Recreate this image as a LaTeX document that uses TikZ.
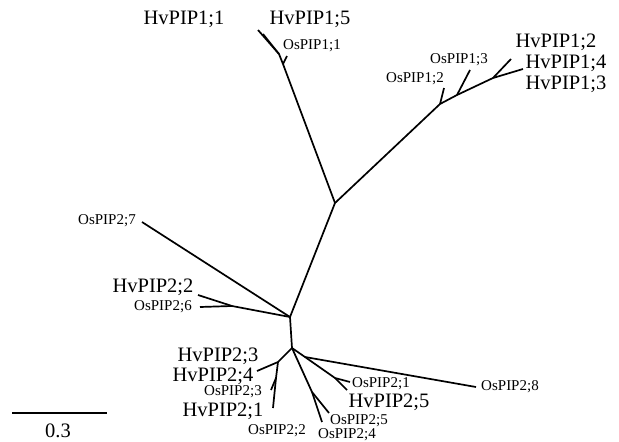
\documentclass[tikz,border=0pt]{standalone}
\usepackage{fontspec}
\setmainfont{Liberation Serif}
\begin{document}
\begin{tikzpicture}[x=1pt,y=-1pt,
  br/.style={line width=1.7pt},
  big/.style={font=\fontsize{20.5}{20.5}\selectfont, inner sep=0pt},
  small/.style={font=\fontsize{15}{15}\selectfont, inner sep=0pt}]
\useasboundingbox (0,0) rectangle (619,442);

% inner nodes of the tree
\coordinate (A) at (335,203);
\coordinate (n1) at (283,64);
\coordinate (n2) at (279,54);
\coordinate (n3) at (440,104);
\coordinate (n4) at (457,95);
\coordinate (n5) at (493,78);
\coordinate (B) at (290,317);
\coordinate (C) at (232,306);
\coordinate (D) at (292,348);
\coordinate (E) at (278,362);
\coordinate (F) at (276,378);
\coordinate (G) at (312,392);
\coordinate (H) at (305,357);
\coordinate (I) at (335,378);

% tips
\coordinate (tOs11) at (287,56);
\coordinate (tHv11) at (258,30);
\coordinate (tHv15) at (263,34);
\coordinate (tOs12) at (444,88);
\coordinate (tOs13) at (470,70);
\coordinate (tHv12) at (511,59);
\coordinate (tHv14) at (523,69);
\coordinate (tOs27) at (142,222);
\coordinate (tHv22) at (198,295);
\coordinate (tOs26) at (200,307);
\coordinate (tHv24) at (257,371);
\coordinate (tOs23) at (271,390);
\coordinate (tHv21) at (273,408);
\coordinate (tOs24) at (322,422);
\coordinate (tOs25) at (329,413);
\coordinate (tOs28) at (476,387);
\coordinate (tOs21) at (350,382);
\coordinate (tHv25) at (347,390);

% branches
\draw [br] (A) -- (n1) -- (n2) -- (tHv11);
\draw [br] (n2) -- (tHv15);
\draw [br] (n1) -- (tOs11);
\draw [br] (A) -- (n3) -- (n4) -- (n5) -- (tHv14);
\draw [br] (n3) -- (tOs12);
\draw [br] (n4) -- (tOs13);
\draw [br] (n5) -- (tHv12);
\draw [br] (A) -- (B) -- (tOs27);
\draw [br] (B) -- (C) -- (tHv22);
\draw [br] (C) -- (tOs26);
\draw [br] (B) -- (D) -- (E) -- (tHv24);
\draw [br] (E) -- (F) -- (tHv21);
\draw [br] (F) -- (tOs23);
\draw [br] (D) -- (G) -- (tOs24);
\draw [br] (G) -- (tOs25);
\draw [br] (D) -- (H) -- (tOs28);
\draw [br] (H) -- (I) -- (tOs21);
\draw [br] (I) -- (tHv25);

% labels
\node [big] (lHv11) at (184,19) {HvPIP1;1};
\node [big] (lHv15) at (310,19) {HvPIP1;5};
\node [small] (lOs11) at (312,46) {OsPIP1;1};
\node [small] (lOs13) at (459,60) {OsPIP1;3};
\node [small] (lOs12) at (415,79) {OsPIP1;2};
\node [big] (lHv12) at (556,42) {HvPIP1;2};
\node [big] (lHv14) at (566,63) {HvPIP1;4};
\node [big] (lHv13) at (566,84) {HvPIP1;3};
\node [small] (lOs27) at (107,221) {OsPIP2;7};
\node [big] (lHv22) at (153,287) {HvPIP2;2};
\node [small] (lOs26) at (163,307) {OsPIP2;6};
\node [big] (lHv23) at (218,356) {HvPIP2;3};
\node [big] (lHv24) at (213,376) {HvPIP2;4};
\node [small] (lOs23) at (233,392) {OsPIP2;3};
\node [big] (lHv21) at (223,411) {HvPIP2;1};
\node [small] (lOs22) at (277,431) {OsPIP2;2};
\node [small] (lOs21) at (381,384) {OsPIP2;1};
\node [big] (lHv25) at (389,402) {HvPIP2;5};
\node [small] (lOs25) at (359,421) {OsPIP2;5};
\node [small] (lOs24) at (347,435) {OsPIP2;4};
\node [small] (lOs28) at (510,387) {OsPIP2;8};

% scale bar
\coordinate (s0) at (12,413);
\coordinate (s1) at (107,413);
\draw [br] (s0) -- (s1);
\node [big] (lscale) at (58,431) {0.3};
\end{tikzpicture}
\end{document}
